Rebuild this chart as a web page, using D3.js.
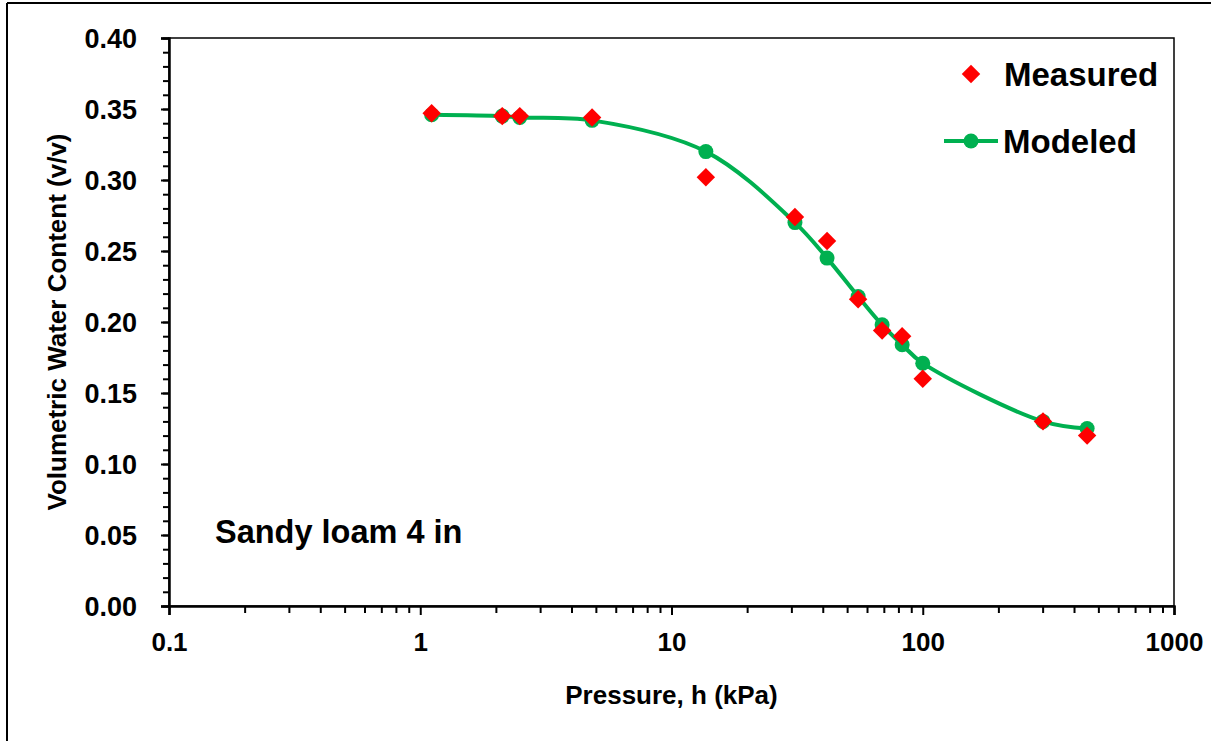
<!DOCTYPE html>
<html>
<head>
<meta charset="utf-8">
<script src="https://cdn.jsdelivr.net/npm/d3@7"></script>
<style>
  body { margin: 0; background: #fff; }
  svg text { font-family: "Liberation Sans", Arial, sans-serif; font-weight: bold; fill: #000; }
</style>
</head>
<body>
<svg width="1211" height="741"></svg>
<script>
// pressure (kPa) and volumetric water content readings
const pressure = [1.11, 2.12, 2.49, 4.83, 13.7, 31.0, 41.6, 55.3, 68.9, 82.8, 100, 301, 451];
const measured = [0.347, 0.345, 0.345, 0.344, 0.302, 0.274, 0.257, 0.216, 0.194, 0.190, 0.160, 0.130, 0.120];
const modeled  = [0.346, 0.345, 0.344, 0.342, 0.320, 0.270, 0.245, 0.218, 0.198, 0.184, 0.171, 0.130, 0.125];

const xTicks = [0.1, 1, 10, 100, 1000];
const yTicks = [0, 0.05, 0.1, 0.15, 0.2, 0.25, 0.3, 0.35, 0.4];

const svg = d3.select('svg');
const margin = { top: 38, right: 37, bottom: 135, left: 169 };
const width = +svg.attr('width');
const height = +svg.attr('height');
const innerWidth = width - margin.left - margin.right;
const innerHeight = height - margin.top - margin.bottom;

// outer frame (only left and top edges are visible)
svg.append('line').attr('x1', 7).attr('x2', 7).attr('y1', 3).attr('y2', height)
  .attr('stroke', '#000').attr('stroke-width', 2);
svg.append('line').attr('x1', 7).attr('x2', width).attr('y1', 3).attr('y2', 3)
  .attr('stroke', '#000').attr('stroke-width', 2);

const xScale = d3.scaleLog().domain([0.1, 1000]).range([0, innerWidth]);
const yScale = d3.scaleLinear().domain([0, 0.4]).range([innerHeight, 0]);

const g = svg.append('g')
  .attr('transform', `translate(${margin.left},${margin.top})`);

// plot box
g.append('rect')
  .attr('width', innerWidth).attr('height', innerHeight)
  .attr('fill', 'none').attr('stroke', '#000').attr('stroke-width', 1.5);

// minor ticks
const xMinor = [];
[0.1, 1, 10, 100].forEach(d => { for (let k = 2; k <= 9; k++) xMinor.push(d * k); });
const yMinor = d3.range(0, 41).map(i => i / 100);

g.append('g')
  .attr('transform', `translate(0,${innerHeight})`)
  .call(d3.axisBottom(xScale).tickValues(xMinor).tickSize(7).tickFormat(''))
  .call(a => a.select('.domain').remove())
  .call(a => a.selectAll('text').remove())
  .selectAll('line').attr('stroke-width', 2);

g.append('g')
  .call(d3.axisLeft(yScale).tickValues(yMinor).tickSize(6).tickFormat(''))
  .call(a => a.select('.domain').remove())
  .call(a => a.selectAll('text').remove())
  .selectAll('line').attr('stroke-width', 2);

const xAxisG = g.append('g')
  .attr('transform', `translate(0,${innerHeight})`)
  .call(d3.axisBottom(xScale).tickValues(xTicks).tickSize(9).tickPadding(18)
    .tickFormat(d3.format('~g')));
xAxisG.select('.domain').attr('stroke-width', 2.5);
xAxisG.selectAll('line').attr('stroke-width', 2);
xAxisG.selectAll('text').attr('font-size', 26).attr('dy', '0.71em');

const yAxisG = g.append('g')
  .call(d3.axisLeft(yScale).tickValues(yTicks).tickSize(8).tickFormat(''));
yAxisG.select('.domain').attr('stroke-width', 2.5);
yAxisG.selectAll('line').attr('stroke-width', 2);
yAxisG.selectAll('text').remove();

// y tick labels
svg.append('g').selectAll('text').data(yTicks)
  .enter().append('text')
  .attr('x', margin.left - 32)
  .attr('y', d => margin.top + yScale(d) + 9.5)
  .attr('text-anchor', 'end')
  .attr('font-size', 27)
  .text(d3.format('.2f'));

// axis titles
svg.append('text')
  .attr('x', margin.left + xScale(10)).attr('y', 704)
  .attr('text-anchor', 'middle').attr('font-size', 26)
  .text('Pressure, h (kPa)');

svg.append('text')
  .attr('transform', `translate(66,${margin.top + innerHeight / 2}) rotate(-90)`)
  .attr('text-anchor', 'middle').attr('font-size', 26)
  .text('Volumetric Water Content (v/v)');

g.append('text')
  .attr('x', 215 - margin.left).attr('y', 543 - margin.top)
  .attr('font-size', 32.5)
  .text('Sandy loam 4 in');

// modeled curve
const modelData = pressure.map((p, i) => ({ p, v: modeled[i] }));
const measData = pressure.map((p, i) => ({ p, v: measured[i] }));
const green = '#00b050';

g.append('path')
  .datum(modelData)
  .attr('fill', 'none').attr('stroke', green).attr('stroke-width', 4)
  .attr('d', d3.line().x(d => xScale(d.p)).y(d => yScale(d.v)).curve(d3.curveCatmullRom.alpha(0.5)));

g.selectAll('circle.model').data(modelData)
  .enter().append('circle')
  .attr('class', 'model')
  .attr('cx', d => xScale(d.p)).attr('cy', d => yScale(d.v))
  .attr('r', 7.5).attr('fill', green);

const diamond = d3.symbol().type(d3.symbolSquare).size(170);
g.selectAll('path.meas').data(measData)
  .enter().append('path')
  .attr('class', 'meas')
  .attr('d', diamond)
  .attr('transform', d => `translate(${xScale(d.p)},${yScale(d.v)}) rotate(45)`)
  .attr('fill', '#ff0000');

// legend
const lg = svg.append('g');
lg.append('path').attr('d', diamond).attr('transform', 'translate(971,74) rotate(45)').attr('fill', '#ff0000');
lg.append('text').attr('x', 1004).attr('y', 86).attr('font-size', 33).text('Measured');
lg.append('line').attr('x1', 944).attr('x2', 998).attr('y1', 141).attr('y2', 141)
  .attr('stroke', green).attr('stroke-width', 4);
lg.append('circle').attr('cx', 971).attr('cy', 141).attr('r', 7.5).attr('fill', green);
lg.append('text').attr('x', 1003).attr('y', 153).attr('font-size', 33).text('Modeled');
</script>
</body>
</html>
